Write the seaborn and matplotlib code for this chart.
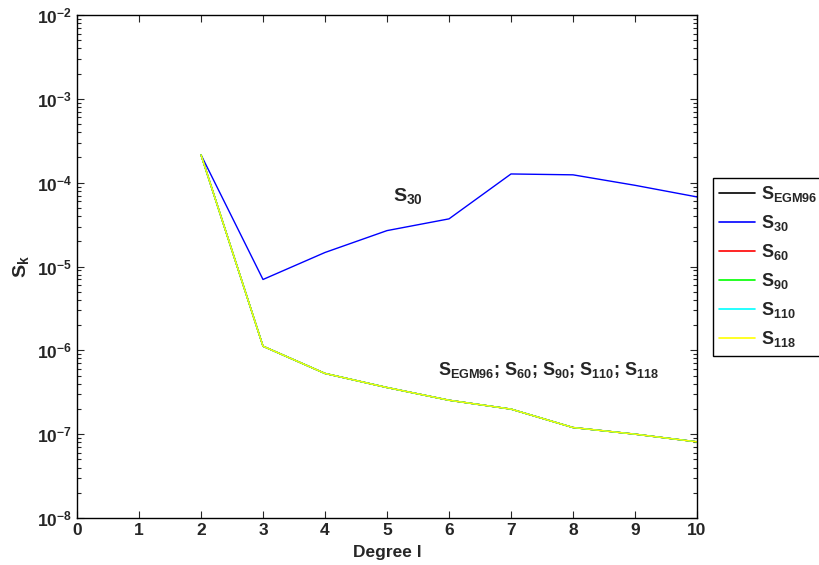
import numpy as np
import pandas as pd
import matplotlib
matplotlib.use("Agg")
import matplotlib.pyplot as plt
import seaborn as sns
from matplotlib.ticker import LogLocator, NullFormatter, FixedLocator

degrees = [2, 3, 4, 5, 6, 7, 8, 9, 10]
s_egm96 = [2.15e-4, 1.12e-6, 5.3e-7, 3.6e-7, 2.54e-7, 1.99e-7, 1.2e-7, 1.0e-7, 8.1e-8]
s_30 = [2.15e-4, 7.0e-6, 1.47e-5, 2.68e-5, 3.7e-5, 1.27e-4, 1.24e-4, 9.3e-5, 6.76e-5]
s_60 = [2.15e-4, 1.12e-6, 5.3e-7, 3.6e-7, 2.54e-7, 1.99e-7, 1.2e-7, 1.0e-7, 8.1e-8]
s_90 = [2.15e-4, 1.12e-6, 5.3e-7, 3.6e-7, 2.54e-7, 1.99e-7, 1.2e-7, 1.0e-7, 8.1e-8]
s_110 = [2.15e-4, 1.12e-6, 5.3e-7, 3.6e-7, 2.54e-7, 1.99e-7, 1.2e-7, 1.0e-7, 8.1e-8]
s_118 = [2.15e-4, 1.12e-6, 5.3e-7, 3.6e-7, 2.54e-7, 1.99e-7, 1.2e-7, 1.0e-7, 8.1e-8]

series_names = ["$S_{EGM96}$", "$S_{30}$", "$S_{60}$", "$S_{90}$", "$S_{110}$", "$S_{118}$"]
series_vals = [s_egm96, s_30, s_60, s_90, s_110, s_118]
colors = ["#000000", "#0000ff", "#ff0000", "#00ff00", "#00ffff", "#ffff00"]
y_major = [1e-8, 1e-7, 1e-6, 1e-5, 1e-4, 1e-3, 1e-2]

sns.set_style("ticks")
plt.rcParams["font.family"] = ["Liberation Sans", "DejaVu Sans"]
plt.rcParams["font.weight"] = "bold"
plt.rcParams["mathtext.fontset"] = "custom"
plt.rcParams["mathtext.rm"] = "Liberation Sans:bold"
plt.rcParams["mathtext.it"] = "Liberation Sans:bold"
plt.rcParams["mathtext.bf"] = "Liberation Sans:bold"
plt.rcParams["mathtext.sf"] = "Liberation Sans:bold"
plt.rcParams["mathtext.default"] = "rm"

rows = []
for name, vals in zip(series_names, series_vals):
    for d, v in zip(degrees, vals):
        rows.append({"Degree": d, "S": v, "series": name})
df = pd.DataFrame(rows)

fig = plt.figure(figsize=(8.19, 5.65), dpi=100)
ax = fig.add_axes([77 / 819, 1 - 518 / 565, 620 / 819, 503 / 565])

sns.lineplot(data=df, x="Degree", y="S", hue="series", hue_order=series_names,
             palette=dict(zip(series_names, colors)), ax=ax, linewidth=1.0,
             legend=True, estimator=None, sort=False)

ax.set_yscale("log")
ax.set_xlim(0, 10)
ax.set_ylim(1e-8, 1e-2)
ax.set_xticks(range(0, 11))
ax.yaxis.set_major_locator(FixedLocator(y_major))
ax.yaxis.set_minor_locator(LogLocator(base=10, subs=np.arange(2, 10), numticks=100))
ax.yaxis.set_minor_formatter(NullFormatter())
ax.tick_params(axis="both", which="both", direction="in", top=True, right=True,
               labelsize=12.5, width=0.8)
ax.tick_params(axis="both", which="major", length=5)
ax.tick_params(axis="y", which="minor", length=3)
for sp in ax.spines.values():
    sp.set_linewidth(1.0)
    sp.set_color("black")
for lab in ax.get_xticklabels() + ax.get_yticklabels():
    lab.set_fontweight("bold")

ax.set_xlabel("Degree l", fontsize=12.5, fontweight="bold", labelpad=5)
ax.set_ylabel("$S_k$", fontsize=14, labelpad=4)

ax.text(5.1, 7.0e-5, "$S_{30}$", fontsize=14, ha="left", va="center")
ax.text(5.82, 5.9e-7, "$S_{EGM96}$; $S_{60}$; $S_{90}$; $S_{110}$; $S_{118}$",
        fontsize=13, ha="left", va="center")

leg = ax.legend(loc="upper left", bbox_to_anchor=(713 / 819, 1 - 178 / 565),
                bbox_transform=fig.transFigure, fontsize=13, frameon=True,
                fancybox=False, edgecolor="black", framealpha=1,
                handlelength=2.0, handletextpad=0.3, labelspacing=0.5,
                borderpad=0.35, borderaxespad=0)
leg.get_frame().set_linewidth(1.0)
for line in leg.get_lines():
    line.set_linewidth(1.2)

fig.savefig("out.png", dpi=100)
